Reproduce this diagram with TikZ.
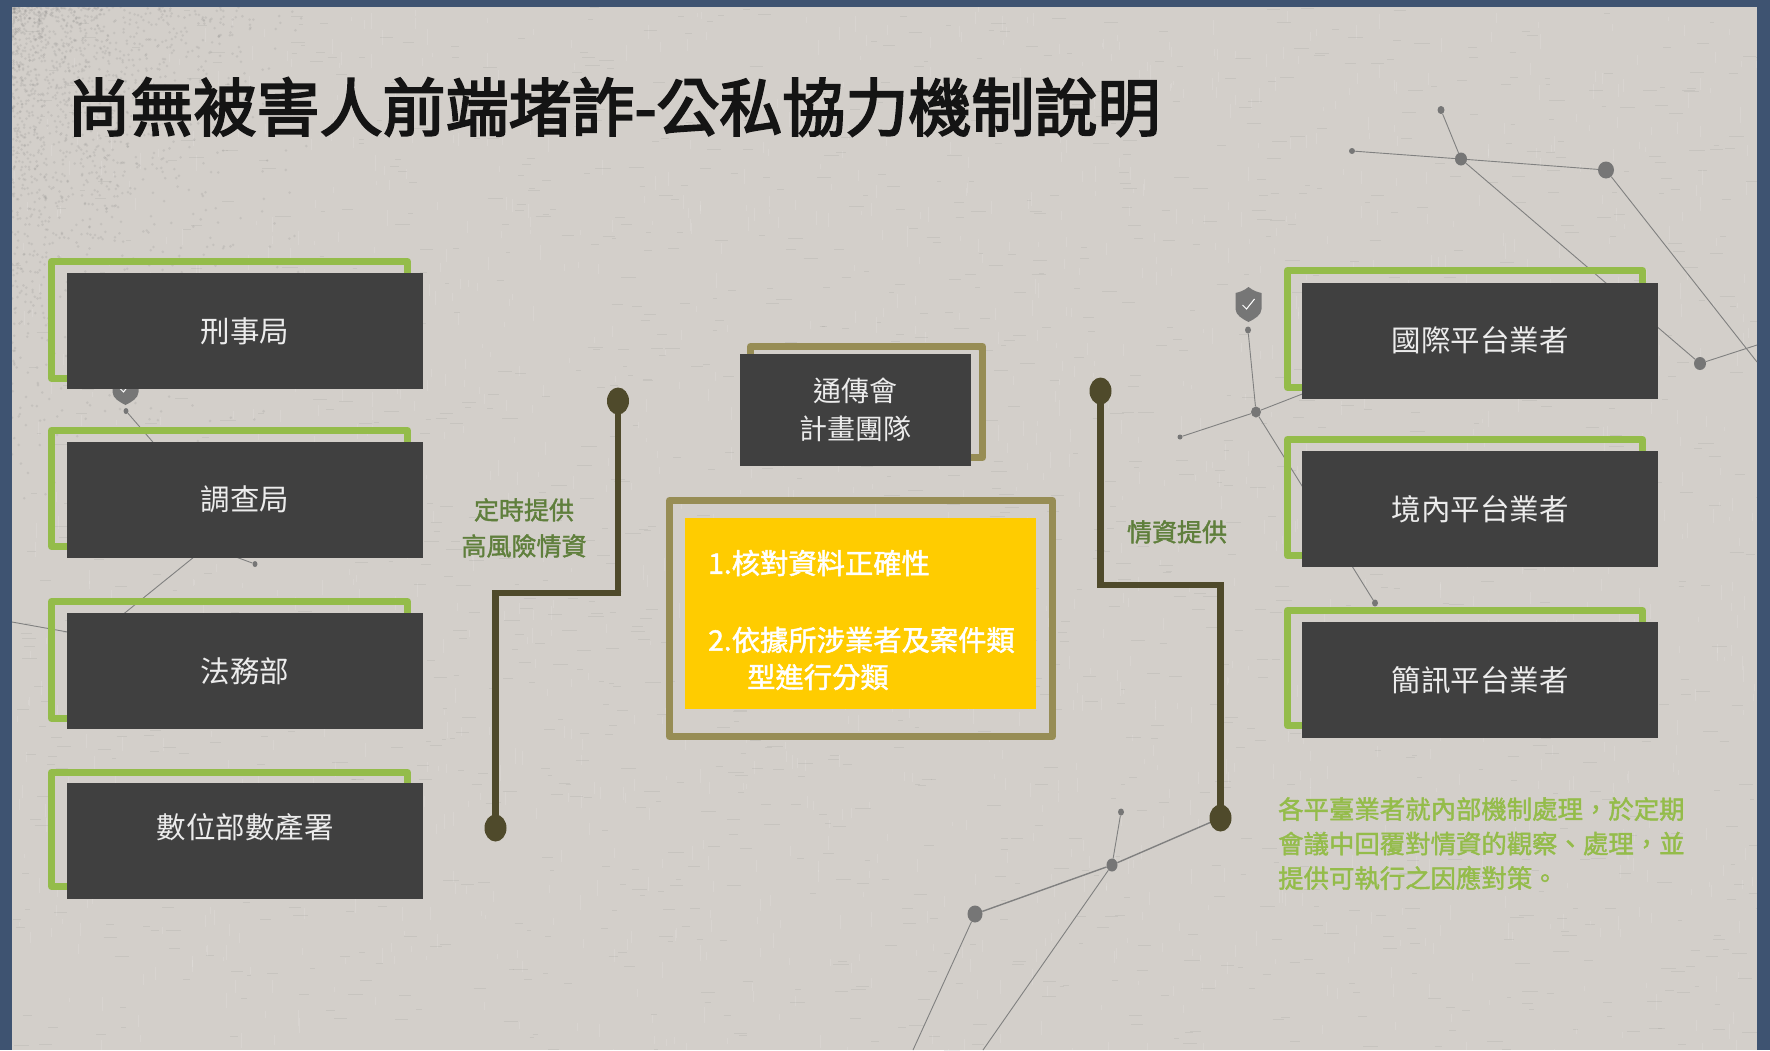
\documentclass[tikz,border=0pt]{standalone}
\usepackage{fontspec}
\setmainfont{Noto Sans CJK TC}
\newfontfamily\semibold[FakeBold=1.6]{Noto Sans CJK TC}
\newfontfamily\titlebold[FakeBold=3]{Noto Sans CJK TC}
\usetikzlibrary{shapes.geometric}
\definecolor{paper}{HTML}{D3CFCA}
\definecolor{band}{HTML}{3E5371}
\definecolor{fgreen}{HTML}{94BC4A}
\definecolor{ftan}{HTML}{978D55}
\definecolor{boxdark}{HTML}{404040}
\definecolor{wire}{HTML}{4F4A2B}
\definecolor{gold}{HTML}{FFCC00}
\definecolor{lblgreen}{HTML}{5F7F3C}
\definecolor{star}{HTML}{808080}
\tikzset{
  x=1pt,y=-1pt,
  gframe/.style={draw=fgreen,line width=7pt,line join=round},
  tframe/.style={draw=ftan,line width=7pt,line join=round},
  agency/.style={rectangle,fill=boxdark,draw=none,text=white!90!boxdark,inner sep=0pt,minimum width=356pt,minimum height=116pt,font=\fontsize{29.5}{37}\selectfont,align=center},
  caption/.style={inner sep=0pt,align=center,text=white!90!boxdark,font=\fontsize{29.5}{37}\selectfont},
  wirepath/.style={draw=wire,line width=6.5pt,line join=miter},
  wiredot/.style={ellipse,fill=wire,inner sep=0pt,minimum width=22pt,minimum height=27pt},
  starline/.style={draw=star,line width=0.9pt},
  stardot/.style={ellipse,fill=star!92!black,inner sep=0pt},
  sidelabel/.style={inner sep=0pt,align=center,text=lblgreen,font=\fontsize{25}{36}\semibold\selectfont},
  yellowtext/.style={inner sep=0pt,anchor=west,text=white,font=\fontsize{28.3}{34}\semibold\selectfont},
}
\newcommand{\shieldmark}[2]{%
  \begin{scope}[shift={(#1,#2)}]
    \fill[star!92!black] (0,-35) .. controls (-5,-31) and (-9,-30) .. (-13,-29) -- (-13,-13) .. controls (-13,-7) and (-6,-3) .. (0,0) .. controls (6,-3) and (13,-7) .. (13,-13) -- (13,-29) .. controls (9,-30) and (5,-31) .. (0,-35) -- cycle;
    \draw[white,line width=1pt] (-6,-17) -- (-2,-13) -- (6,-23);
  \end{scope}}
\begin{document}
\begin{tikzpicture}
\useasboundingbox (0,0) rectangle (1770,1050);
\fill[band] (0,0) rectangle (1770,1050);
\fill[paper] (12,7) rectangle (1757,1050);
% woven paper texture
\pgfmathsetseed{11}
\begin{scope}
\clip (12,7) rectangle (1757,1050);
\foreach \i in {1,...,1500}{
  \pgfmathsetmacro{\px}{12+1745*rnd}
  \pgfmathsetmacro{\py}{7+1043*rnd}
  \pgfmathsetmacro{\pl}{4+12*rnd}
  \draw[black!60,opacity=.10,line width=.8pt] (\px,\py) -- ++(\pl,0);
  \pgfmathsetmacro{\qx}{12+1745*rnd}
  \pgfmathsetmacro{\qy}{7+1043*rnd}
  \pgfmathsetmacro{\ql}{4+12*rnd}
  \draw[white,opacity=.12,line width=.8pt] (\qx,\qy) -- ++(0,\ql);
}
\foreach \i in {1,...,1600}{
  \pgfmathsetmacro{\px}{12+300*rnd*rnd}
  \pgfmathsetmacro{\py}{7+500*rnd*rnd}
  \fill[black!60,opacity=.13] (\px,\py) circle[radius=1.4];
}
\end{scope}
% constellations behind the boxes
\node[stardot,minimum width=7pt,minimum height=8pt] (sa) at (1441,110) {};
\node[stardot,minimum width=12pt,minimum height=13pt] (sb) at (1461,159) {};
\node[stardot,minimum width=6pt,minimum height=6pt] (sc) at (1352,151) {};
\node[stardot,minimum width=16pt,minimum height=17pt] (sd) at (1606,170) {};
\node[stardot,minimum width=12pt,minimum height=13pt] (se) at (1700,363.5) {};
\node[stardot,minimum width=6pt,minimum height=7pt] (sg) at (1248,330) {};
\node[stardot,minimum width=10pt,minimum height=11pt] (sh) at (1256,412) {};
\node[stardot,minimum width=5pt,minimum height=5pt] (si) at (1180,437) {};
\node[stardot,minimum width=6pt,minimum height=7pt] (sj) at (1375,603) {};
\node[stardot,minimum width=6pt,minimum height=7pt] (sk) at (1121,812) {};
\node[stardot,minimum width=11pt,minimum height=13pt] (sl) at (1112,865) {};
\node[stardot,minimum width=15pt,minimum height=17pt] (sm) at (975,914) {};
\node[stardot,minimum width=5pt,minimum height=6pt] (sn) at (126,411) {};
\node[stardot,minimum width=5pt,minimum height=6pt] (so) at (255,564) {};
\coordinate (edgeA) at (1757,345);
\coordinate (edgeB) at (1757,362);
\coordinate (footA) at (913,1050);
\coordinate (footB) at (983,1050);
\coordinate (hidA) at (190,485);
\coordinate (hidB) at (225,553);
\coordinate (hidC) at (215,540);
\coordinate (lowA) at (100,633);
\coordinate (edgeC) at (12,622);
\coordinate (hidD) at (90,636);
\coordinate (hidE) at (1310,391);
\draw[starline] (sa) -- (sb);
\draw[starline] (sc) -- (sb) -- (sd) -- (edgeB);
\draw[starline] (sb) -- (se) -- (edgeA);
\draw[starline] (sg) -- (sh) -- (si);
\draw[starline] (sh) -- (hidE);
\draw[starline] (sh) -- (sj);
\draw[starline] (sk) -- (sl);
\draw[starline,line width=1.4pt] (sl) -- (sm);
\draw[starline] (sm) -- (footA);
\draw[starline] (sl) -- (footB);
\draw[starline] (sn) -- (hidA);
\draw[starline] (hidB) -- (so);
\draw[starline] (hidC) -- (lowA);
\draw[starline] (edgeC) -- (hidD);
\shieldmark{1248.5}{322}
\shieldmark{125.5}{405}
% frames
\draw[gframe] (51.5,261.5) rectangle (407.5,378.5);
\draw[gframe] (51.5,430.5) rectangle (407.5,546.5);
\draw[gframe] (51.5,601.5) rectangle (407.5,718.5);
\draw[gframe] (51.5,772.5) rectangle (407.5,886.5);
\draw[gframe] (1287.5,270.5) rectangle (1642.5,387.5);
\draw[gframe] (1287.5,439.5) rectangle (1642.5,555.5);
\draw[gframe] (1287.5,610.5) rectangle (1642.5,725.5);
\draw[tframe] (750.5,346.5) rectangle (982.5,457.5);
\draw[tframe] (669.5,500.5) rectangle (1052.5,736.5);
% boxes
\node[agency] (xing) at (245,331) {刑事局};
\node[agency] (diao) at (245,499.5) {調查局};
\node[agency] (fa) at (245,671) {法務部};
\node[agency] (shu) at (245,841) {};
\node[caption] (shutext) at (245,827) {數位部數產署};
\node[agency] (guoji) at (1480,340.5) {國際平台業者};
\node[agency] (jingnei) at (1480,509) {境內平台業者};
\node[agency] (jianxun) at (1480,680) {簡訊平台業者};
\node[agency,minimum width=231pt,minimum height=112pt,font=\fontsize{28}{38}\selectfont] (ncc) at (855.5,410) {通傳會\\計畫團隊};
\node[rectangle,fill=gold,inner sep=0pt,minimum width=351pt,minimum height=191pt] (gold) at (860.5,613.5) {};
\node[yellowtext] (stepa) at (708,563) {1.核對資料正確性};
\node[yellowtext] (stepb) at (708,640) {2.依據所涉業者及案件類};
\node[yellowtext] (stepc) at (747,677) {型進行分類};
% connectors
\node[wiredot] (lt) at (618,401) {};
\node[wiredot] (lb) at (495.5,828) {};
\node[wiredot] (rt) at (1100.5,391) {};
\node[wiredot] (rb) at (1220.5,818) {};
\draw[wirepath] (lt.center) -- (618,593) -- (495.5,593) -- (lb.center);
\draw[wirepath] (rt.center) -- (1100.5,585) -- (1220.5,585) -- (rb.center);
\draw[starline,line width=1.4pt] (sl) -- (rb);
% labels
\node[inner sep=0pt,anchor=center,text=black!92,font=\fontsize{63}{70}\titlebold\selectfont] (title) at (614,107) {尚無被害人前端堵詐-公私協力機制說明};
\node[sidelabel] (lbla) at (524,528) {定時提供\\高風險情資};
\node[sidelabel] (lblb) at (1177,532) {情資提供};
\node[inner sep=0pt,anchor=north west,align=left,text=fgreen,font=\fontsize{25.4}{34.5}\semibold\selectfont] (note) at (1278,797) {各平臺業者就內部機制處理，於定期\\會議中回覆對情資的觀察、處理，並\\提供可執行之因應對策。};
\end{tikzpicture}
\end{document}
